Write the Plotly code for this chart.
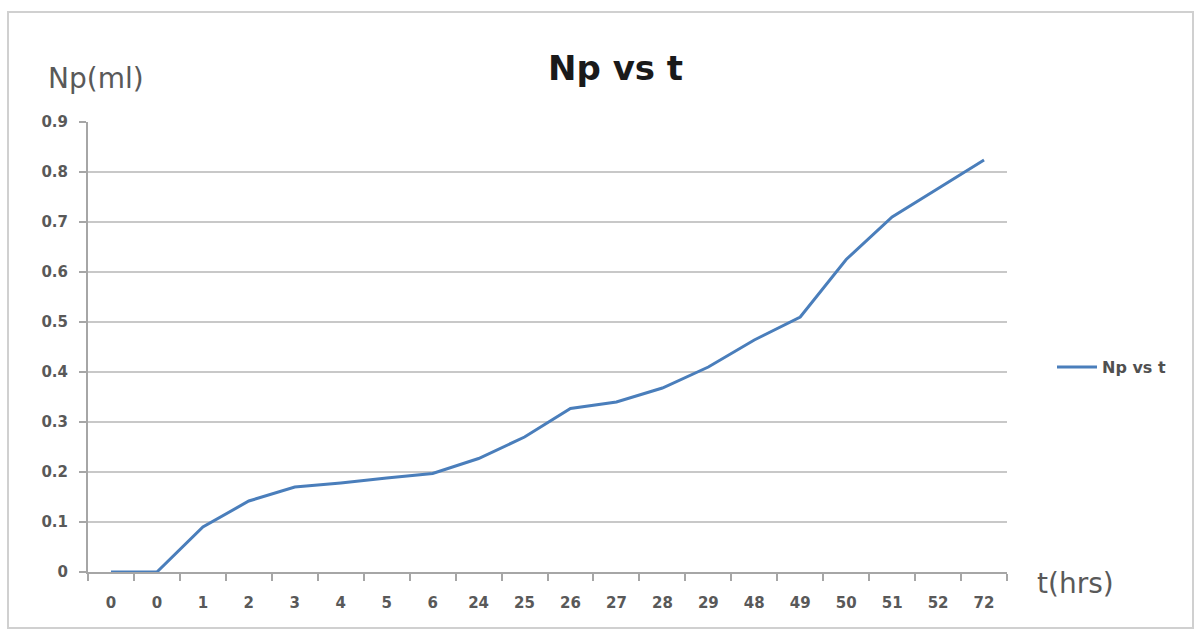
import plotly.graph_objects as go

# Sampling times (hours) shown as category labels along the x axis
t_labels = ["0", "0", "1", "2", "3", "4", "5", "6", "24", "25", "26", "27",
            "28", "29", "48", "49", "50", "51", "52", "72"]
# Cumulative produced volume Np (ml)
np_ml = [0.0, 0.0, 0.09, 0.142, 0.17, 0.178, 0.188, 0.197, 0.227, 0.27,
         0.327, 0.34, 0.368, 0.41, 0.464, 0.51, 0.625, 0.71, 0.767, 0.824]
y_ticks = [0, 0.1, 0.2, 0.3, 0.4, 0.5, 0.6, 0.7, 0.8, 0.9]
y_tick_text = ["0", "0.1", "0.2", "0.3", "0.4", "0.5", "0.6", "0.7", "0.8", "0.9"]

idx = list(range(len(t_labels)))

W, H = 1198, 633
ML, MR, MT, MB = 88, 191, 122, 61
PW, PH = W - ML - MR, H - MT - MB

def px_x(px):
    return (px - ML) / PW

def px_y(py):
    return (H - MB - py) / PH

TEXT_FONT = "'DejaVu Sans', sans-serif"
TXT = "#595959"

fig = go.Figure()
fig.add_trace(go.Scatter(
    x=idx, y=np_ml, mode="lines", name="Np vs t",
    line=dict(color="#4a7ebb", width=3),
))

fig.update_layout(
    width=W, height=H,
    margin=dict(l=ML, r=MR, t=MT, b=MB),
    paper_bgcolor="white", plot_bgcolor="white",
    font=dict(family=TEXT_FONT, color=TXT),
    showlegend=True,
    legend=dict(
        x=px_x(1052), y=px_y(367), xanchor="left", yanchor="middle",
        font=dict(size=16, color="#505050", family=TEXT_FONT, weight="bold"),
        bgcolor="rgba(0,0,0,0)", itemwidth=40,
    ),
    xaxis=dict(
        range=[-0.5, len(t_labels) - 0.5],
        tickmode="array", tickvals=idx, ticktext=t_labels,
        ticks="", showgrid=False, zeroline=False,
        showline=True, linecolor="#a6a6a6", linewidth=2,
        tickfont=dict(size=15, color=TXT, family=TEXT_FONT, weight="bold"),
        ticklabelstandoff=16,
        minor=dict(tick0=-0.5, dtick=1, ticks="outside", ticklen=7,
                   tickcolor="#a6a6a6", tickwidth=1.5, showgrid=False),
        fixedrange=True,
    ),
    yaxis=dict(
        range=[0, 0.9],
        tickmode="array", tickvals=y_ticks, ticktext=y_tick_text,
        ticks="outside", ticklen=7, tickcolor="#a6a6a6", tickwidth=1.5,
        showgrid=True, gridcolor="#c8c8c8", gridwidth=2,
        zeroline=False,
        showline=True, linecolor="#a6a6a6", linewidth=2,
        tickfont=dict(size=15, color=TXT, family=TEXT_FONT, weight="bold"),
        ticklabelstandoff=8,
        fixedrange=True,
    ),
    shapes=[dict(
        type="rect", xref="paper", yref="paper",
        x0=px_x(8), x1=px_x(1193), y0=px_y(628), y1=px_y(12),
        line=dict(color="#d0d0d0", width=2), fillcolor="rgba(0,0,0,0)",
        layer="below",
    )],
    annotations=[
        dict(text="<b>Np vs t</b>", xref="paper", yref="paper",
             x=px_x(615), y=px_y(68), xanchor="center", yanchor="middle",
             showarrow=False, font=dict(size=34, color="#1a1a1a", family=TEXT_FONT)),
        dict(text="Np(ml)", xref="paper", yref="paper",
             x=px_x(96), y=px_y(78), xanchor="center", yanchor="middle",
             showarrow=False, font=dict(size=28, color=TXT, family=TEXT_FONT)),
        dict(text="t(hrs)", xref="paper", yref="paper",
             x=px_x(1075), y=px_y(583), xanchor="center", yanchor="middle",
             showarrow=False, font=dict(size=28, color=TXT, family=TEXT_FONT)),
    ],
)

fig.write_html("out.html", config={"displayModeBar": False})
